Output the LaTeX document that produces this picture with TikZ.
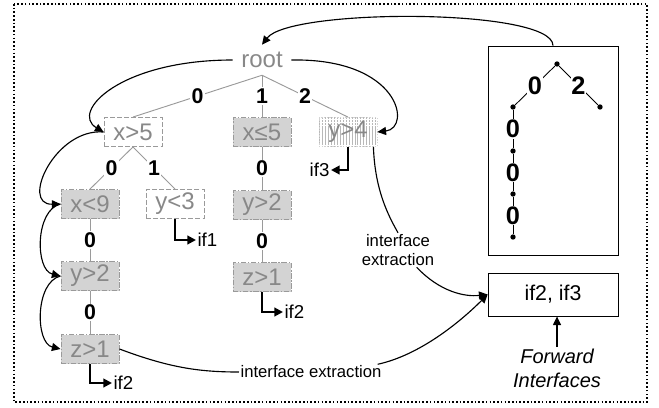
\documentclass[tikz,border=0pt]{standalone}
\usepackage{fontspec}
\setmainfont{Liberation Sans}
\usetikzlibrary{arrows.meta,patterns.meta}
\definecolor{txtgray}{HTML}{888888}
\definecolor{boxgray}{HTML}{D3D3D3}
\definecolor{edgegray}{HTML}{9A9A9A}
\begin{document}
\begin{tikzpicture}[x=0.75pt,y=-0.75pt,
  tip/.style={-{Triangle[length=6.5pt,width=6pt]}},
  conn/.style={line width=0.85pt},
  cond/.style={minimum width=43.5pt, minimum height=21.75pt, inner sep=0pt,
    text=txtgray, font=\fontsize{18}{20}\selectfont},
  openbox/.style={cond, draw=edgegray, fill=white, line width=0.7pt, dash pattern=on 3.5pt off 1.8pt},
  solvedbox/.style={cond, draw=edgegray, fill=boxgray, line width=0.7pt,
    dash pattern=on 4pt off 1.3pt on 1pt off 1.3pt},
  hatchbox/.style={cond, draw=boxgray, line width=0.7pt, dash pattern=on 1pt off 1pt,
    pattern={Lines[angle=90, distance=2.2pt, line width=0.6pt]}, pattern color=edgegray!70},
  rootnode/.style={cond, minimum height=22.5pt},
  tedge/.style={draw=edgegray, line width=0.7pt},
  elab/.style={fill=white, inner sep=1pt, font=\bfseries\fontsize{16}{17}\selectfont},
  iflab/.style={inner sep=1pt, font=\fontsize{14}{16}\selectfont},
  ifarrow/.style={line width=1.5pt, -{Triangle[length=6.5pt,width=6.5pt]}},
  ielab/.style={inner sep=1pt, font=\fontsize{12.5}{14.25}\selectfont},
  panel/.style={draw, line width=0.6pt, inner sep=0pt, minimum width=97.5pt},
  dot/.style={circle, fill=black, inner sep=0pt, minimum size=4pt},
  medge/.style={line width=0.65pt},
  mlab/.style={fill=white, inner sep=0.5pt, font=\bfseries\fontsize{19}{20}\selectfont}
]
\useasboundingbox (0,0) rectangle (659,407);
% dotted frame
\draw[line width=1.2pt, dash pattern=on 1.2pt off 1.6pt] (14,4) rectangle (647,402);

% condition tree
\node[rootnode] (root) at (262,60) {root};
\node[openbox]   (x5)   at (133,132) {x>5};
\node[solvedbox] (xle5) at (262,132) {x≤5};
\node[hatchbox]  (y4)   at (348,132) {y>4};
\node[solvedbox] (x9)   at (90,204)  {x<9};
\node[openbox]   (y3)   at (175,204) {y<3};
\node[solvedbox] (y2m)  at (262,205) {y>2};
\node[solvedbox] (y2l)  at (90,276)  {y>2};
\node[solvedbox] (z1m)  at (262,277) {z>1};
\node[solvedbox] (z1l)  at (90,349)  {z>1};

\draw[tedge] (root.south) -- node[elab]{0} (x5.north);
\draw[tedge] (root.south) -- node[elab]{1} (xle5.north);
\draw[tedge] (root.south) -- node[elab]{2} (y4.north);
\draw[tedge] (x5.south) -- node[elab]{0} (x9.north);
\draw[tedge] (x5.south) -- node[elab]{1} (y3.north);
\draw[tedge] (x9) -- node[elab]{0} (y2l);
\draw[tedge] (y2l) -- node[elab]{0} (z1l);
\draw[tedge] (xle5) -- node[elab]{0} (y2m);
\draw[tedge] (y2m) -- node[elab]{0} (z1m);

% interfaces reached by the leaves
\node[iflab, anchor=west] (if1)  at (196,240) {if1};
\node[iflab, anchor=west] (if2a) at (112,383) {if2};
\node[iflab, anchor=west] (if2b) at (283,312) {if2};
\node[iflab, anchor=east] (if3)  at (331,170) {if3};
\draw[ifarrow] (y3.south) |- (if1.west);
\draw[ifarrow] (z1l.south) |- (if2a.west);
\draw[ifarrow] (z1m.south) |- (if2b.west);
\draw[ifarrow] (y4.south) |- (if3.east);

% traversal order
\draw[conn, tip] (root.west) .. controls (120,60) and (70,112) .. (x5.west);
\draw[conn, tip] (root.east) .. controls (400,58) and (412,128) .. (y4.east);
\draw[conn, tip] (x5.west) .. controls (55,128) and (20,205) .. (x9.west);
\draw[conn, tip] (x9.west) .. controls (35,210) and (35,270) .. (y2l.west);
\draw[conn, tip] (y2l.west) .. controls (35,282) and (35,343) .. (z1l.west);

% path panel
\node[panel, minimum height=156.75pt] (big) at (553,150.5) {};
\node[dot] (m0) at (557,64) {};
\node[dot] (m1) at (513,107) {};
\node[dot] (m2) at (600,107) {};
\node[dot] (m3) at (513,151) {};
\node[dot] (m4) at (513,194) {};
\node[dot] (m5) at (513,237) {};
\draw[medge] (m0) -- node[mlab]{0} (m1);
\draw[medge] (m0) -- node[mlab]{2} (m2);
\draw[medge] (m1) -- node[mlab]{0} (m3);
\draw[medge] (m3) -- node[mlab]{0} (m4);
\draw[medge] (m4) -- node[mlab]{0} (m5);
\draw[conn, tip] (big.north) .. controls (553,8) and (290,8) .. (root.north);

% forward interfaces
\node[panel, minimum height=32.25pt, font=\fontsize{16}{18}\selectfont] (ifbox) at (553,294.5) {if2, if3};
\node[inner sep=1pt, align=center, font=\itshape\fontsize{15}{18}\selectfont] (fwd) at (557,368) {Forward\\Interfaces};
\draw[conn, tip] (fwd.north) -- (fwd.north |- ifbox.south);

% interface extraction
\node[ielab, align=center] (ie1) at (398,250) {interface\\extraction};
\node[ielab] (ie2) at (311,372) {interface extraction};
\draw[conn] ([xshift=-3pt]y4.south east) .. controls (375,190) and (388,215) .. (ie1.north);
\draw[conn, tip] ([xshift=14pt]ie1.south) .. controls (440,292) and (465,297) .. (ifbox.west);
\draw[conn] (z1l.east) .. controls (170,368) and (200,372) .. (ie2.west);
\draw[conn, tip] ([xshift=-4pt]ie2.north east) .. controls (420,355) and (460,322) .. (ifbox.west);
\end{tikzpicture}
\end{document}
